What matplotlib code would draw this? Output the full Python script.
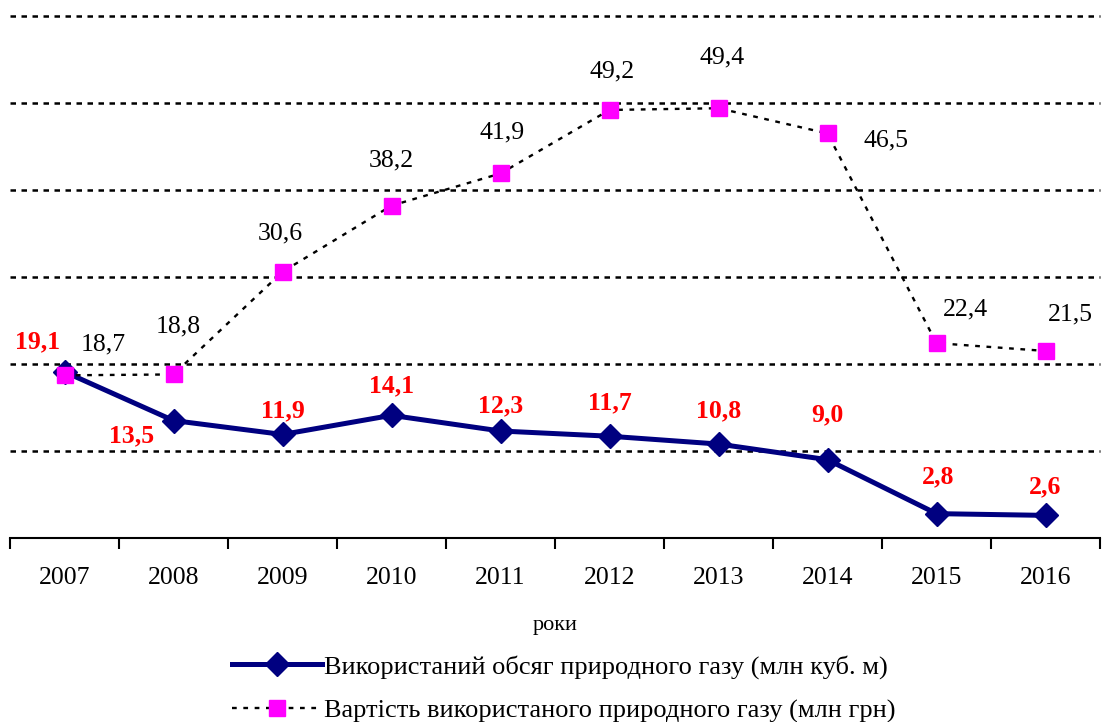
import matplotlib.pyplot as plt

# --- data ---
years = ["2007", "2008", "2009", "2010", "2011", "2012", "2013", "2014", "2015", "2016"]
volume = [19.1, 13.5, 11.9, 14.1, 12.3, 11.7, 10.8, 9.0, 2.8, 2.6]
cost = [18.7, 18.8, 30.6, 38.2, 41.9, 49.2, 49.4, 46.5, 22.4, 21.5]

volume_label = "Використаний обсяг природного газу (млн куб. м)"
cost_label = "Вартість використаного природного газу (млн грн)"

# label offsets in pixels (dx, dy), dy positive = up
volume_offsets = [(-27, 30), (-42, -15), (0, 24), (0, 30), (0, 25),
                  (0, 33), (0, 33), (0, 45), (2, 37), (0, 29)]
cost_offsets = [(39, 31), (5, 48), (-2, 38), (0, 45), (2, 41),
                (3, 39), (4, 51), (58, -7), (29, 34), (25, 36)]

plt.rcParams['font.family'] = ['Liberation Serif', 'DejaVu Serif']

fig = plt.figure(figsize=(11.03, 7.22), dpi=100)
ax = fig.add_axes([10 / 1103, 1 - 538 / 722, 1090 / 1103, 522 / 722])

x = list(range(len(years)))

# dotted horizontal grid
for g in [10, 20, 30, 40, 50, 60]:
    ax.axhline(g, color='black', lw=1.8, ls=(0, (2.2, 2.2)), zorder=1,
               clip_on=False)

ax.plot(x, volume, color='#000080', lw=3.6, marker='D', markersize=12,
        label=volume_label, zorder=3)
ax.plot(x, cost, color='black', lw=1.7, ls=(0, (2, 2.8)), marker='s',
        markersize=11, markerfacecolor='#ff00ff', markeredgecolor='#ff00ff',
        label=cost_label, zorder=4)

for xi, v, (dx, dy) in zip(x, volume, volume_offsets):
    ax.annotate(f"{v:.1f}".replace('.', ','), (xi, v), xytext=(dx, dy),
                textcoords='offset pixels', ha='center', va='center',
                color='red', fontsize=18.5, fontweight='bold', zorder=5)
for xi, v, (dx, dy) in zip(x, cost, cost_offsets):
    ax.annotate(f"{v:.1f}".replace('.', ','), (xi, v), xytext=(dx, dy),
                textcoords='offset pixels', ha='center', va='center',
                color='black', fontsize=18.5, zorder=5)

ax.set_xlim(-0.5, len(years) - 0.5)
ax.set_ylim(0, 60)
ax.set_yticks([])
ax.set_xticks([i - 0.5 for i in range(len(years) + 1)])
ax.set_xticklabels([])
ax.set_xticks(x, minor=True)
ax.set_xticklabels(years, minor=True, fontsize=18.5)
ax.tick_params(axis='x', which='major', direction='out', length=8, width=1.5)
ax.tick_params(axis='x', which='minor', length=0, pad=21)

for s in ['top', 'left', 'right']:
    ax.spines[s].set_visible(False)
ax.spines['bottom'].set_linewidth(1.5)

ax.set_xlabel("роки", fontsize=16, labelpad=19)

leg = ax.legend(loc='upper center', bbox_to_anchor=(554 / 1090, -0.178),
                frameon=False, fontsize=19, numpoints=1, handlelength=3.4,
                handletextpad=0.1, labelspacing=0.78)

plt.savefig("out.png", dpi=100)
